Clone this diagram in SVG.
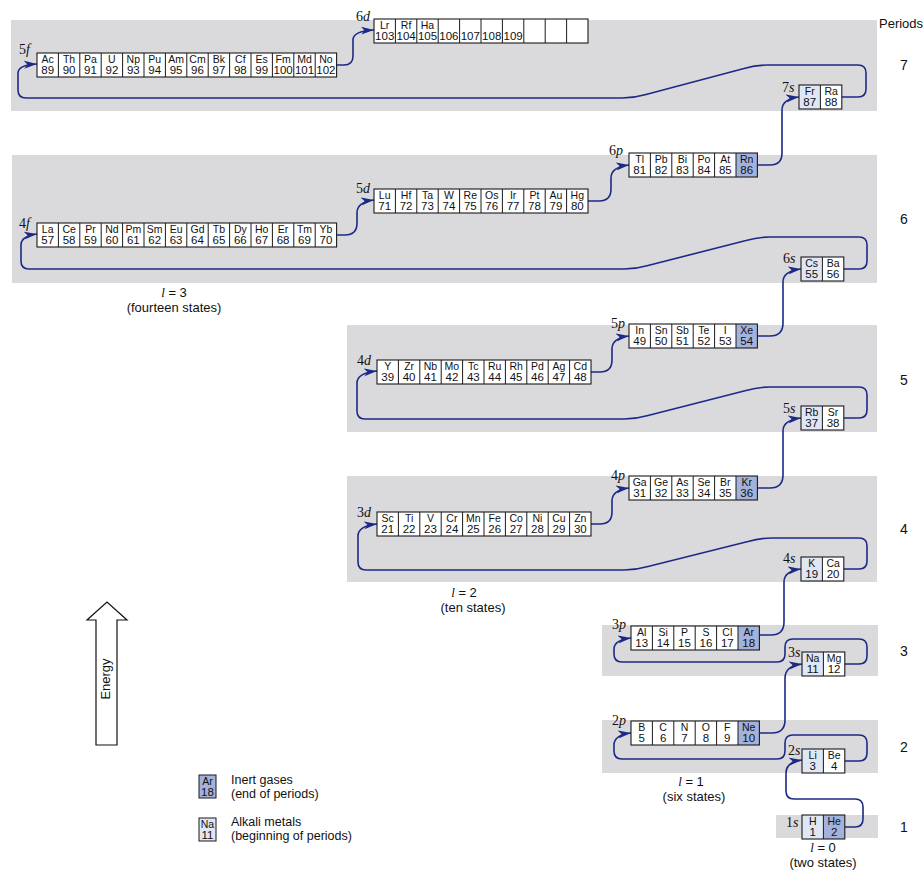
<svg xmlns="http://www.w3.org/2000/svg" xmlns:xlink="http://www.w3.org/1999/xlink" width="923" height="872" viewBox="0 0 923 872">
<style>
.band{fill:#dadadd}
.bg{fill:#fff}
.ol{fill:none;stroke:#1a1a1a;stroke-width:1.1}
.sep{fill:none;stroke:#1a1a1a;stroke-width:1}
.ig{fill:#a3b2dc}
.am{fill:#dfe6f4}
.s{font-family:"Liberation Sans",Arial,sans-serif;font-size:10.5px;text-anchor:middle;fill:#111}
.n{font-family:"Liberation Sans",Arial,sans-serif;font-size:11.5px;text-anchor:middle;fill:#111}
.lab{font-family:"Liberation Serif","Times New Roman",serif;font-size:14px;fill:#111}
.i{font-style:italic}
.per{font-family:"Liberation Sans",Arial,sans-serif;font-size:14px;text-anchor:middle;fill:#111}
.txt{font-family:"Liberation Sans",Arial,sans-serif;font-size:13px;fill:#111}
.lg{font-family:"Liberation Sans",Arial,sans-serif;font-size:12.5px;fill:#111}
.ctr{text-anchor:middle}
.cn{fill:none;stroke:#1c2a86;stroke-width:1.6;marker-end:url(#ah)}
</style>
<defs>
<marker id="ah" markerWidth="14" markerHeight="10" refX="13" refY="5" orient="auto" markerUnits="userSpaceOnUse">
<path d="M0,1 L13,5 L0,9 L3.5,5 z" fill="#1c2a86"/>
</marker>
<path id="s2" class="sep" d="M21.4 0v24"/>
<path id="s6" class="sep" d="M21.4 0v24M42.8 0v24M64.2 0v24M85.6 0v24M107 0v24"/>
<path id="s10" class="sep" d="M21.4 0v24M42.8 0v24M64.2 0v24M85.6 0v24M107 0v24M128.4 0v24M149.8 0v24M171.2 0v24M192.6 0v24"/>
<path id="s14" class="sep" d="M21.4 0v24M42.8 0v24M64.2 0v24M85.6 0v24M107 0v24M128.4 0v24M149.8 0v24M171.2 0v24M192.6 0v24M214 0v24M235.4 0v24M256.8 0v24M278.2 0v24"/>
</defs>

<g id="bands">
<rect class="band" x="11" y="20" width="866" height="91"/>
<rect class="band" x="12" y="155" width="865" height="128"/>
<rect class="band" x="347" y="325" width="530" height="107"/>
<rect class="band" x="347" y="476" width="530" height="106"/>
<rect class="band" x="602" y="625" width="276" height="51"/>
<rect class="band" x="602" y="720" width="276" height="53"/>
<rect class="band" x="776" y="815" width="102" height="23"/>
</g>

<g id="connectors">
<path class="cn" d="M336.6,65 H344 Q353,65 353,56 V40 Q353,31 374,30"/>
<path class="cn" d="M841.8,97 H858 Q866,97 866,89 V73 Q866,65 858,65 H768 Q756,65 744,68.5 L646,94.5 Q634,98 622,98 H26 Q18,98 18,90 V73 Q18,65 37,64"/>
<path class="cn" d="M757.4,165 H770 Q782,165 782,153 V110 Q782,99 799,97"/>
<path class="cn" d="M588,201 H599 Q611,201 611,189 V178 Q611,167 629,165"/>
<path class="cn" d="M336.6,235 H345 Q357,235 357,223 V213 Q357,202 374,200"/>
<path class="cn" d="M843.8,269 H859 Q867,269 867,261 V245 Q867,237 859,237 H770 Q758,237 746,240.5 L648,265.5 Q636,269 624,269 H29 Q21,269 21,261 V245 Q21,236 37,234"/>
<path class="cn" d="M757.4,336 H770 Q783,336 783,323 V282 Q783,271 801,269"/>
<path class="cn" d="M591,372 H600 Q612,372 612,360 V349 Q612,338 629,336"/>
<path class="cn" d="M843.8,418 H859 Q867,418 867,410 V395 Q867,387 859,387 H770 Q758,387 746,390.5 L648,415.5 Q636,419 624,419 H365 Q357,419 357,411 V383 Q357,373 377,371"/>
<path class="cn" d="M757.4,488 H770 Q783,488 783,475 V431 Q783,420 801,418"/>
<path class="cn" d="M591,524 H600 Q612,524 612,512 V501 Q612,490 629,488"/>
<path class="cn" d="M843.8,569 H859 Q867,569 867,561 V546 Q867,538 859,538 H772 Q760,538 748,541.5 L648,566.5 Q636,570 624,570 H366 Q358,570 358,562 V536 Q358,526 377,524"/>
<path class="cn" d="M759.4,635 H771 Q784,635 784,622 V582 Q784,571 801,569"/>
<path class="cn" d="M844.8,664 H859 Q867,664 867,656 V647 Q867,639 859,639 H793 Q785,639 785,647 V654 Q785,662 777,662 H622 Q614,662 614,654 V649 Q614,640 631,638"/>
<path class="cn" d="M759.4,733 H772 Q785,733 785,720 V678 Q785,666 802,664"/>
<path class="cn" d="M844.8,761 H859 Q867,761 867,753 V743 Q867,735 859,735 H793 Q785,735 785,743 V751 Q785,759 777,759 H622 Q614,759 614,751 V745 Q614,735 631,733"/>
<path class="cn" d="M844.8,827 H855 Q863,827 863,819 V807 Q863,799 855,799 H794 Q786,799 786,791 V773 Q786,762 802,760"/>
</g>

<g id="n5f">
<text class="lab" x="19" y="54">5<tspan class="i">f</tspan></text>
<g transform="translate(37,53)">
<rect class="bg" width="299.6" height="24"/><rect class="ol" width="299.6" height="24"/><use href="#s14"/>
<text class="s" y="9.8"><tspan x="10.7">Ac</tspan><tspan x="32.1">Th</tspan><tspan x="53.5">Pa</tspan><tspan x="74.9">U</tspan><tspan x="96.3">Np</tspan><tspan x="117.7">Pu</tspan><tspan x="139.1">Am</tspan><tspan x="160.5">Cm</tspan><tspan x="181.9">Bk</tspan><tspan x="203.3">Cf</tspan><tspan x="224.7">Es</tspan><tspan x="246.1">Fm</tspan><tspan x="267.5">Md</tspan><tspan x="288.9">No</tspan></text>
<text class="n" y="20.8"><tspan x="10.7">89</tspan><tspan x="32.1">90</tspan><tspan x="53.5">91</tspan><tspan x="74.9">92</tspan><tspan x="96.3">93</tspan><tspan x="117.7">94</tspan><tspan x="139.1">95</tspan><tspan x="160.5">96</tspan><tspan x="181.9">97</tspan><tspan x="203.3">98</tspan><tspan x="224.7">99</tspan><tspan x="246.1">100</tspan><tspan x="267.5">101</tspan><tspan x="288.9">102</tspan></text>
</g>
</g>

<g id="n6d">
<text class="lab" x="356" y="21">6<tspan class="i">d</tspan></text>
<g transform="translate(374,19)">
<rect class="bg" width="214" height="24"/><rect class="ol" width="214" height="24"/><use href="#s10"/>
<text class="s" y="9.8"><tspan x="10.7">Lr</tspan><tspan x="32.1">Rf</tspan><tspan x="53.5">Ha</tspan></text>
<text class="n" y="20.8"><tspan x="10.7">103</tspan><tspan x="32.1">104</tspan><tspan x="53.5">105</tspan><tspan x="74.9">106</tspan><tspan x="96.3">107</tspan><tspan x="117.7">108</tspan><tspan x="139.1">109</tspan></text>
</g>
</g>

<g id="n7s">
<text class="lab" x="782" y="92">7<tspan class="i">s</tspan></text>
<g transform="translate(799,85)">
<rect class="bg" width="42.8" height="24"/><rect class="am" width="21.4" height="24"/><rect class="ol" width="42.8" height="24"/><use href="#s2"/>
<text class="s" y="9.8"><tspan x="10.7">Fr</tspan><tspan x="32.1">Ra</tspan></text>
<text class="n" y="20.8"><tspan x="10.7">87</tspan><tspan x="32.1">88</tspan></text>
</g>
</g>

<g id="n6p">
<text class="lab" x="609" y="155">6<tspan class="i">p</tspan></text>
<g transform="translate(629,153)">
<rect class="bg" width="128.4" height="24"/><rect class="ig" x="107" width="21.4" height="24"/><rect class="ol" width="128.4" height="24"/><use href="#s6"/>
<text class="s" y="9.8"><tspan x="10.7">Tl</tspan><tspan x="32.1">Pb</tspan><tspan x="53.5">Bi</tspan><tspan x="74.9">Po</tspan><tspan x="96.3">At</tspan><tspan x="117.7">Rn</tspan></text>
<text class="n" y="20.8"><tspan x="10.7">81</tspan><tspan x="32.1">82</tspan><tspan x="53.5">83</tspan><tspan x="74.9">84</tspan><tspan x="96.3">85</tspan><tspan x="117.7">86</tspan></text>
</g>
</g>

<g id="n5d">
<text class="lab" x="356" y="193">5<tspan class="i">d</tspan></text>
<g transform="translate(374,189)">
<rect class="bg" width="214" height="24"/><rect class="ol" width="214" height="24"/><use href="#s10"/>
<text class="s" y="9.8"><tspan x="10.7">Lu</tspan><tspan x="32.1">Hf</tspan><tspan x="53.5">Ta</tspan><tspan x="74.9">W</tspan><tspan x="96.3">Re</tspan><tspan x="117.7">Os</tspan><tspan x="139.1">Ir</tspan><tspan x="160.5">Pt</tspan><tspan x="181.9">Au</tspan><tspan x="203.3">Hg</tspan></text>
<text class="n" y="20.8"><tspan x="10.7">71</tspan><tspan x="32.1">72</tspan><tspan x="53.5">73</tspan><tspan x="74.9">74</tspan><tspan x="96.3">75</tspan><tspan x="117.7">76</tspan><tspan x="139.1">77</tspan><tspan x="160.5">78</tspan><tspan x="181.9">79</tspan><tspan x="203.3">80</tspan></text>
</g>
</g>

<g id="n4f">
<text class="lab" x="19" y="228">4<tspan class="i">f</tspan></text>
<g transform="translate(37,223)">
<rect class="bg" width="299.6" height="24"/><rect class="ol" width="299.6" height="24"/><use href="#s14"/>
<text class="s" y="9.8"><tspan x="10.7">La</tspan><tspan x="32.1">Ce</tspan><tspan x="53.5">Pr</tspan><tspan x="74.9">Nd</tspan><tspan x="96.3">Pm</tspan><tspan x="117.7">Sm</tspan><tspan x="139.1">Eu</tspan><tspan x="160.5">Gd</tspan><tspan x="181.9">Tb</tspan><tspan x="203.3">Dy</tspan><tspan x="224.7">Ho</tspan><tspan x="246.1">Er</tspan><tspan x="267.5">Tm</tspan><tspan x="288.9">Yb</tspan></text>
<text class="n" y="20.8"><tspan x="10.7">57</tspan><tspan x="32.1">58</tspan><tspan x="53.5">59</tspan><tspan x="74.9">60</tspan><tspan x="96.3">61</tspan><tspan x="117.7">62</tspan><tspan x="139.1">63</tspan><tspan x="160.5">64</tspan><tspan x="181.9">65</tspan><tspan x="203.3">66</tspan><tspan x="224.7">67</tspan><tspan x="246.1">68</tspan><tspan x="267.5">69</tspan><tspan x="288.9">70</tspan></text>
</g>
</g>

<g id="n6s">
<text class="lab" x="783" y="263">6<tspan class="i">s</tspan></text>
<g transform="translate(801,257)">
<rect class="bg" width="42.8" height="24"/><rect class="am" width="21.4" height="24"/><rect class="ol" width="42.8" height="24"/><use href="#s2"/>
<text class="s" y="9.8"><tspan x="10.7">Cs</tspan><tspan x="32.1">Ba</tspan></text>
<text class="n" y="20.8"><tspan x="10.7">55</tspan><tspan x="32.1">56</tspan></text>
</g>
</g>

<g id="n5p">
<text class="lab" x="611" y="328">5<tspan class="i">p</tspan></text>
<g transform="translate(629,324)">
<rect class="bg" width="128.4" height="24"/><rect class="ig" x="107" width="21.4" height="24"/><rect class="ol" width="128.4" height="24"/><use href="#s6"/>
<text class="s" y="9.8"><tspan x="10.7">In</tspan><tspan x="32.1">Sn</tspan><tspan x="53.5">Sb</tspan><tspan x="74.9">Te</tspan><tspan x="96.3">I</tspan><tspan x="117.7">Xe</tspan></text>
<text class="n" y="20.8"><tspan x="10.7">49</tspan><tspan x="32.1">50</tspan><tspan x="53.5">51</tspan><tspan x="74.9">52</tspan><tspan x="96.3">53</tspan><tspan x="117.7">54</tspan></text>
</g>
</g>

<g id="n4d">
<text class="lab" x="357" y="365">4<tspan class="i">d</tspan></text>
<g transform="translate(377,360)">
<rect class="bg" width="214" height="24"/><rect class="ol" width="214" height="24"/><use href="#s10"/>
<text class="s" y="9.8"><tspan x="10.7">Y</tspan><tspan x="32.1">Zr</tspan><tspan x="53.5">Nb</tspan><tspan x="74.9">Mo</tspan><tspan x="96.3">Tc</tspan><tspan x="117.7">Ru</tspan><tspan x="139.1">Rh</tspan><tspan x="160.5">Pd</tspan><tspan x="181.9">Ag</tspan><tspan x="203.3">Cd</tspan></text>
<text class="n" y="20.8"><tspan x="10.7">39</tspan><tspan x="32.1">40</tspan><tspan x="53.5">41</tspan><tspan x="74.9">42</tspan><tspan x="96.3">43</tspan><tspan x="117.7">44</tspan><tspan x="139.1">45</tspan><tspan x="160.5">46</tspan><tspan x="181.9">47</tspan><tspan x="203.3">48</tspan></text>
</g>
</g>

<g id="n5s">
<text class="lab" x="783" y="413">5<tspan class="i">s</tspan></text>
<g transform="translate(801,406)">
<rect class="bg" width="42.8" height="24"/><rect class="am" width="21.4" height="24"/><rect class="ol" width="42.8" height="24"/><use href="#s2"/>
<text class="s" y="9.8"><tspan x="10.7">Rb</tspan><tspan x="32.1">Sr</tspan></text>
<text class="n" y="20.8"><tspan x="10.7">37</tspan><tspan x="32.1">38</tspan></text>
</g>
</g>

<g id="n4p">
<text class="lab" x="611" y="480">4<tspan class="i">p</tspan></text>
<g transform="translate(629,476)">
<rect class="bg" width="128.4" height="24"/><rect class="ig" x="107" width="21.4" height="24"/><rect class="ol" width="128.4" height="24"/><use href="#s6"/>
<text class="s" y="9.8"><tspan x="10.7">Ga</tspan><tspan x="32.1">Ge</tspan><tspan x="53.5">As</tspan><tspan x="74.9">Se</tspan><tspan x="96.3">Br</tspan><tspan x="117.7">Kr</tspan></text>
<text class="n" y="20.8"><tspan x="10.7">31</tspan><tspan x="32.1">32</tspan><tspan x="53.5">33</tspan><tspan x="74.9">34</tspan><tspan x="96.3">35</tspan><tspan x="117.7">36</tspan></text>
</g>
</g>

<g id="n3d">
<text class="lab" x="357" y="517">3<tspan class="i">d</tspan></text>
<g transform="translate(377,512)">
<rect class="bg" width="214" height="24"/><rect class="ol" width="214" height="24"/><use href="#s10"/>
<text class="s" y="9.8"><tspan x="10.7">Sc</tspan><tspan x="32.1">Ti</tspan><tspan x="53.5">V</tspan><tspan x="74.9">Cr</tspan><tspan x="96.3">Mn</tspan><tspan x="117.7">Fe</tspan><tspan x="139.1">Co</tspan><tspan x="160.5">Ni</tspan><tspan x="181.9">Cu</tspan><tspan x="203.3">Zn</tspan></text>
<text class="n" y="20.8"><tspan x="10.7">21</tspan><tspan x="32.1">22</tspan><tspan x="53.5">23</tspan><tspan x="74.9">24</tspan><tspan x="96.3">25</tspan><tspan x="117.7">26</tspan><tspan x="139.1">27</tspan><tspan x="160.5">28</tspan><tspan x="181.9">29</tspan><tspan x="203.3">30</tspan></text>
</g>
</g>

<g id="n4s">
<text class="lab" x="783" y="563">4<tspan class="i">s</tspan></text>
<g transform="translate(801,557)">
<rect class="bg" width="42.8" height="24"/><rect class="am" width="21.4" height="24"/><rect class="ol" width="42.8" height="24"/><use href="#s2"/>
<text class="s" y="9.8"><tspan x="10.7">K</tspan><tspan x="32.1">Ca</tspan></text>
<text class="n" y="20.8"><tspan x="10.7">19</tspan><tspan x="32.1">20</tspan></text>
</g>
</g>

<g id="n3p">
<text class="lab" x="612" y="629">3<tspan class="i">p</tspan></text>
<g transform="translate(631,626)">
<rect class="bg" width="128.4" height="24"/><rect class="ig" x="107" width="21.4" height="24"/><rect class="ol" width="128.4" height="24"/><use href="#s6"/>
<text class="s" y="9.8"><tspan x="10.7">Al</tspan><tspan x="32.1">Si</tspan><tspan x="53.5">P</tspan><tspan x="74.9">S</tspan><tspan x="96.3">Cl</tspan><tspan x="117.7">Ar</tspan></text>
<text class="n" y="20.8"><tspan x="10.7">13</tspan><tspan x="32.1">14</tspan><tspan x="53.5">15</tspan><tspan x="74.9">16</tspan><tspan x="96.3">17</tspan><tspan x="117.7">18</tspan></text>
</g>
</g>

<g id="n3s">
<text class="lab" x="788" y="657">3<tspan class="i">s</tspan></text>
<g transform="translate(802,652)">
<rect class="bg" width="42.8" height="24"/><rect class="am" width="21.4" height="24"/><rect class="ol" width="42.8" height="24"/><use href="#s2"/>
<text class="s" y="9.8"><tspan x="10.7">Na</tspan><tspan x="32.1">Mg</tspan></text>
<text class="n" y="20.8"><tspan x="10.7">11</tspan><tspan x="32.1">12</tspan></text>
</g>
</g>

<g id="n2p">
<text class="lab" x="612" y="725">2<tspan class="i">p</tspan></text>
<g transform="translate(631,721)">
<rect class="bg" width="128.4" height="24"/><rect class="ig" x="107" width="21.4" height="24"/><rect class="ol" width="128.4" height="24"/><use href="#s6"/>
<text class="s" y="9.8"><tspan x="10.7">B</tspan><tspan x="32.1">C</tspan><tspan x="53.5">N</tspan><tspan x="74.9">O</tspan><tspan x="96.3">F</tspan><tspan x="117.7">Ne</tspan></text>
<text class="n" y="20.8"><tspan x="10.7">5</tspan><tspan x="32.1">6</tspan><tspan x="53.5">7</tspan><tspan x="74.9">8</tspan><tspan x="96.3">9</tspan><tspan x="117.7">10</tspan></text>
</g>
</g>

<g id="n2s">
<text class="lab" x="788" y="755">2<tspan class="i">s</tspan></text>
<g transform="translate(802,749)">
<rect class="bg" width="42.8" height="24"/><rect class="am" width="21.4" height="24"/><rect class="ol" width="42.8" height="24"/><use href="#s2"/>
<text class="s" y="9.8"><tspan x="10.7">Li</tspan><tspan x="32.1">Be</tspan></text>
<text class="n" y="20.8"><tspan x="10.7">3</tspan><tspan x="32.1">4</tspan></text>
</g>
</g>

<g id="n1s">
<text class="lab" x="786" y="827">1<tspan class="i">s</tspan></text>
<g transform="translate(802,815)">
<rect class="bg" width="42.8" height="24"/><rect class="am" width="21.4" height="24"/><rect class="ig" x="21.4" width="21.4" height="24"/><rect class="ol" width="42.8" height="24"/><use href="#s2"/>
<text class="s" y="9.8"><tspan x="10.7">H</tspan><tspan x="32.1">He</tspan></text>
<text class="n" y="20.8"><tspan x="10.7">1</tspan><tspan x="32.1">2</tspan></text>
</g>
</g>

<g id="periods">
<text class="txt" x="879" y="28">Periods</text>
<text class="per" x="904" y="70">7</text>
<text class="per" x="904" y="224">6</text>
<text class="per" x="904" y="385">5</text>
<text class="per" x="904" y="534">4</text>
<text class="per" x="904" y="656">3</text>
<text class="per" x="904" y="752">2</text>
<text class="per" x="904" y="832">1</text>
</g>

<g id="l-labels">
<text class="txt ctr" x="174" y="297" font-size="13.5"><tspan class="i" font-family="Liberation Serif,serif">l</tspan> = 3</text>
<text class="txt ctr" x="174" y="312">(fourteen states)</text>
<text class="txt ctr" x="464" y="597" font-size="13.5"><tspan class="i" font-family="Liberation Serif,serif">l</tspan> = 2</text>
<text class="txt ctr" x="473" y="612">(ten states)</text>
<text class="txt ctr" x="691" y="786" font-size="13.5"><tspan class="i" font-family="Liberation Serif,serif">l</tspan> = 1</text>
<text class="txt ctr" x="694" y="801">(six states)</text>
<text class="txt ctr" x="823" y="852" font-size="13.5"><tspan class="i" font-family="Liberation Serif,serif">l</tspan> = 0</text>
<text class="txt ctr" x="823" y="867">(two states)</text>
</g>

<g id="energy">
<polygon points="96,745 96,620 87,620 107,602 127,620 117,620 117,745" fill="#fff" stroke="#111" stroke-width="1.2"/>
<text class="txt ctr" font-size="12" transform="translate(110,679) rotate(-90)">Energy</text>
</g>

<g id="legend">
<rect class="ig" x="199" y="775" width="17" height="23" stroke="#1a1a1a" stroke-width="1"/>
<text class="s" x="207.5" y="784.5" font-size="9.5">Ar</text>
<text class="n" x="207.5" y="796" font-size="10.5">18</text>
<text class="lg" x="231" y="784">Inert gases</text>
<text class="lg" x="231" y="798">(end of periods)</text>
<rect class="am" x="199" y="818" width="17" height="23" stroke="#1a1a1a" stroke-width="1"/>
<text class="s" x="207.5" y="827.5" font-size="9.5">Na</text>
<text class="n" x="207.5" y="839" font-size="10.5">11</text>
<text class="lg" x="231" y="826">Alkali metals</text>
<text class="lg" x="231" y="840">(beginning of periods)</text>
</g>
</svg>
